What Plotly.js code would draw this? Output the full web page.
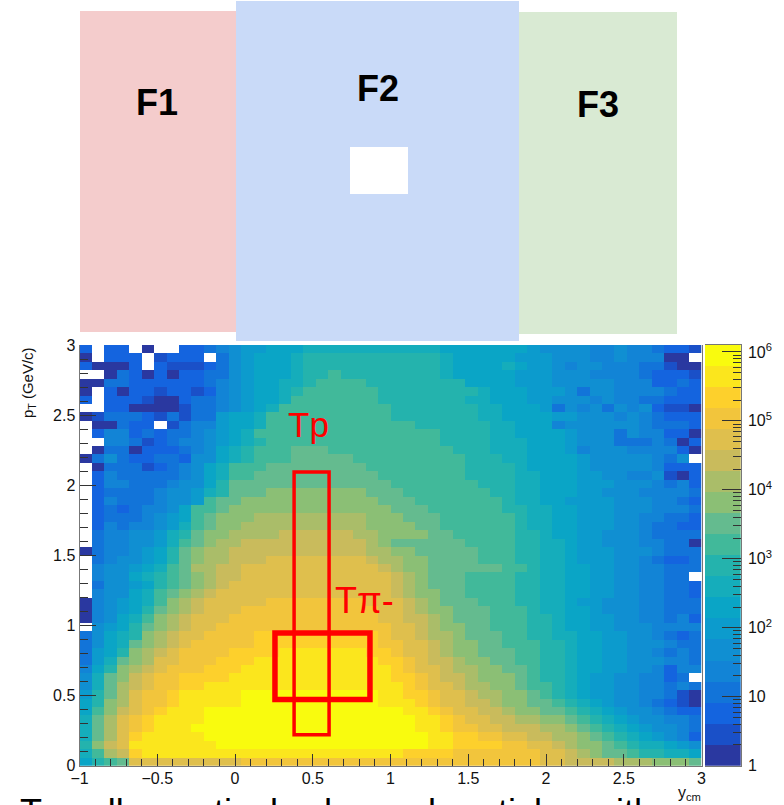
<!DOCTYPE html>
<html>
<head>
<meta charset="utf-8">
<script src="https://cdn.plot.ly/plotly-3.0.1.min.js"></script>
<style>html,body{margin:0;padding:0;background:#fff;overflow:hidden}</style>
</head>
<body>
<div id="chart" style="width:784px;height:805px"></div>
<script>
const n = null; // empty bin
// Palette band (0 = lowest, 19 = highest) of every bin.
// First row is the top of the plot (pT = 3), last row the bottom (pT = 0).
const bandsByRow = [
[2,n,2,2,n,0,n,n,2,2, 3,4,5,6,6,7,7,7,8,8, 8,8,8,8,8,8,8,8,8,7, 7,7,7,7,7,7,6,5,5,5, 5,4,4,5,4,4,3,2,2,1],
[0,n,2,2,2,n,1,2,2,2, n,3,5,6,7,7,7,8,9,9, 9,9,9,9,9,9,9,9,9,8, 7,7,7,7,7,6,6,6,5,5, 5,4,4,5,4,4,4,0,0,n],
[2,0,0,0,2,n,2,1,1,1, 2,3,5,6,7,7,7,8,9,9, 9,9,9,9,9,9,9,9,9,8, 7,7,7,7,8,7,6,6,5,4, 5,5,4,4,4,3,3,1,0,0],
[n,n,0,3,2,0,2,0,2,2, 3,3,5,6,7,7,7,8,9,9, 10,9,9,9,9,9,9,9,9,8, 7,7,7,7,7,6,6,6,5,5, 5,4,4,4,4,3,2,2,2,1],
[0,0,3,3,2,2,2,2,2,2, 3,4,5,6,7,7,8,8,9,10, 10,10,10,9,9,9,9,9,9,9, 9,7,7,7,7,6,6,6,5,5, 5,5,5,4,4,4,2,2,3,2],
[0,n,2,0,2,2,1,2,2,1, 2,4,5,6,7,7,8,9,10,10, 10,10,10,10,9,9,9,9,9,9, 9,9,8,7,7,7,6,6,6,5, 3,5,5,4,4,4,4,3,2,2],
[2,n,2,2,2,1,0,0,2,3, 3,4,5,6,7,7,8,10,10,10, 10,10,10,10,9,9,9,9,9,9, 9,8,8,7,7,7,6,6,5,5, 5,4,5,4,4,3,3,2,2,2],
[n,n,2,2,0,0,0,0,1,3, 3,4,5,6,7,8,10,10,10,10, 10,10,10,10,10,9,9,9,9,9, 9,9,8,8,7,7,7,6,3,5, 4,5,3,5,4,5,2,1,1,0],
[0,1,3,3,3,2,1,3,1,3, 3,6,7,7,8,10,10,10,10,10, 10,10,10,10,10,9,9,9,9,9, 9,9,8,8,7,7,7,7,6,6, 5,5,5,4,5,4,3,2,2,2],
[n,0,0,3,2,2,n,1,3,4, 4,6,7,7,8,10,10,10,10,10, 10,10,10,10,10,10,10,9,9,9, 9,9,9,8,8,7,7,7,4,5, 5,5,5,5,5,4,3,3,3,2],
[n,2,4,4,2,3,2,3,3,4, 5,6,7,8,10,10,10,10,10,10, 10,10,10,10,10,10,10,10,10,9, 9,9,9,8,8,7,7,7,7,6, 5,5,5,3,5,4,4,2,2,0],
[n,n,4,4,3,1,2,3,4,4, 5,6,7,8,9,10,10,10,10,10, 10,10,10,10,10,10,10,10,10,9, 9,9,9,8,8,8,7,7,7,6, 5,5,5,3,3,3,4,3,0,2],
[n,0,3,3,0,2,2,2,3,4, 5,7,8,9,10,10,10,11,11,11, 10,10,10,10,10,10,10,10,10,10, 9,9,9,8,8,8,7,7,7,6, 4,5,5,5,4,4,4,4,2,0],
[0,3,5,3,2,2,3,3,2,5, 5,7,8,9,10,10,10,11,11,11, 11,11,10,10,10,10,10,10,10,10, 10,9,9,9,8,8,7,7,7,7, 6,5,5,5,5,5,4,3,5,n],
[n,0,3,3,3,1,2,3,4,5, 7,8,10,10,10,11,11,11,11,11, 11,11,11,10,10,10,10,10,10,10, 10,9,9,9,9,8,7,7,7,7, 6,5,5,5,5,5,4,2,2,2],
[n,2,4,3,3,3,3,3,4,5, 7,8,10,10,11,11,11,11,11,11, 11,11,11,11,10,10,10,10,10,10, 10,9,9,9,9,8,8,7,7,7, 6,6,5,5,4,4,5,1,0,2],
[n,2,4,4,3,3,3,4,5,5, 7,9,11,11,11,11,11,11,11,11, 11,11,11,11,11,10,10,10,10,10, 10,10,9,9,9,8,8,7,7,7, 6,6,6,5,5,5,4,3,4,2],
[n,2,3,3,3,3,4,5,5,6, 8,9,11,11,11,12,12,12,12,12, 12,12,12,11,11,11,10,10,10,10, 10,10,10,9,9,8,8,7,7,7, 6,6,5,5,5,4,4,4,4,3],
[n,2,4,3,3,3,4,5,5,6, 10,11,11,12,12,12,12,12,12,12, 12,12,12,12,11,11,11,10,10,10, 10,10,10,10,9,8,8,7,7,6, 6,6,6,5,5,5,4,4,3,2],
[n,2,3,2,3,4,4,5,7,10, 10,11,12,12,12,12,12,12,12,12, 12,12,12,12,12,11,11,11,10,10, 10,10,10,10,9,9,8,8,7,7, 6,6,6,5,5,5,4,4,4,3],
[n,2,3,3,3,4,5,6,7,10, 11,12,12,12,13,13,13,13,13,13, 13,13,13,12,12,12,11,11,11,10, 10,10,10,10,10,9,8,8,7,7, 6,6,6,5,5,4,4,3,3,2],
[n,2,4,3,4,4,5,6,8,10, 11,12,12,13,13,13,13,13,13,13, 13,13,13,12,12,12,12,11,11,10, 10,10,10,10,10,9,8,8,7,7, 6,6,6,5,5,4,3,3,2,2],
[n,3,4,4,5,5,6,8,9,11, 12,12,13,13,13,13,14,14,14,14, 14,14,13,13,12,12,12,12,11,11, 10,10,10,10,10,9,9,8,7,7, 6,6,5,5,5,4,3,3,3,3],
[n,3,4,4,5,5,6,8,10,11, 12,13,13,14,14,14,14,14,14,14, 14,14,14,13,12,11,11,11,11,11, 11,10,10,10,10,9,9,8,8,7, 6,6,5,5,5,4,4,3,3,0],
[0,3,4,4,5,6,7,9,11,12, 13,13,14,14,14,14,14,14,14,14, 14,14,14,13,13,12,12,11,11,11, 11,11,10,10,10,9,9,8,8,7, 6,6,6,5,5,5,4,3,3,3],
[n,3,4,5,5,6,7,9,11,12, 13,13,14,14,14,15,15,15,15,15, 15,15,15,14,13,13,12,12,11,11, 11,11,10,10,10,9,9,8,8,7, 6,6,6,5,5,4,3,2,2,3],
[n,4,5,5,6,7,8,10,11,13, 13,14,14,15,15,15,15,15,15,15, 15,15,15,15,14,13,12,12,11,11, 11,11,11,11,10,10,9,8,8,7, 7,6,6,5,5,4,4,3,3,3],
[n,4,5,5,7,8,9,10,11,12, 13,14,14,15,15,15,15,15,15,15, 15,15,15,15,15,14,13,12,11,11, 11,10,10,10,10,9,9,8,8,7, 7,6,6,5,5,4,4,3,3,n],
[n,3,5,5,6,7,9,10,11,12, 13,14,15,15,15,15,15,15,15,15, 15,15,15,15,15,14,13,12,11,11, 11,10,10,10,10,9,9,8,8,7, 7,6,6,5,5,4,4,3,3,2],
[n,4,5,5,7,8,10,11,12,13, 14,15,15,15,15,15,15,15,15,15, 15,15,15,15,15,14,13,12,12,11, 11,10,10,10,10,9,9,8,8,7, 7,6,6,5,5,4,4,3,3,2],
[0,4,5,6,7,8,10,12,13,14, 15,15,15,15,15,16,16,16,16,16, 16,16,16,15,15,15,14,13,12,11, 11,11,10,10,10,9,9,8,8,7, 6,6,5,5,5,4,4,3,3,3],
[0,4,5,6,7,9,11,12,13,14, 15,15,15,16,16,16,16,16,16,16, 16,16,16,16,15,15,14,13,12,12, 11,11,11,10,10,10,9,8,8,7, 7,6,5,5,5,4,4,3,3,3],
[0,4,5,7,8,10,12,13,14,15, 15,15,16,16,16,16,16,16,16,16, 16,16,16,16,15,15,14,14,13,12, 11,11,11,10,10,10,9,9,8,7, 7,6,6,5,5,4,4,3,4,2],
[n,5,6,7,9,11,12,13,14,15, 15,16,16,16,16,16,16,16,16,16, 16,16,16,16,16,15,15,14,13,12, 12,11,11,10,10,10,9,9,8,7, 7,6,6,5,5,5,4,4,4,4],
[3,5,7,8,9,12,13,14,15,15, 16,16,16,16,17,17,17,17,17,17, 17,17,17,17,16,15,15,14,13,13, 12,11,11,11,10,10,9,9,8,8, 7,7,6,6,5,5,4,3,2,3],
[3,5,7,8,11,12,13,14,15,16, 16,16,16,16,17,17,17,17,17,17, 17,17,17,17,16,16,15,15,14,13, 12,12,11,11,10,10,10,9,9,8, 7,7,6,6,5,5,5,4,3,3],
[3,6,7,9,12,13,14,15,16,16, 16,16,17,17,17,17,18,18,18,18, 18,18,18,17,17,16,15,15,14,13, 12,12,11,11,11,10,10,9,9,8, 7,7,6,6,5,5,4,3,4,3],
[3,6,8,11,12,13,15,15,16,16, 16,17,17,17,18,18,18,18,18,18, 18,18,18,18,17,17,16,15,14,14, 13,12,12,11,11,10,10,9,9,8, 7,7,6,6,5,5,5,4,4,3],
[4,7,9,12,13,14,15,16,16,16, 17,17,17,18,18,18,18,18,18,18, 18,18,18,18,18,17,16,15,15,14, 13,13,12,12,11,11,10,9,9,8, 7,7,6,6,5,5,4,2,4,4],
[5,8,11,12,14,15,16,16,17,17, 17,17,18,18,18,18,18,18,18,18, 18,18,18,18,18,17,17,16,15,14, 14,13,12,12,12,11,10,9,9,8, 7,6,6,5,5,4,4,2,3,n],
[5,8,11,13,14,15,16,16,17,17, 18,18,18,18,18,18,18,18,18,18, 18,18,18,18,18,18,17,16,15,15, 14,13,13,12,12,11,10,10,9,8, 7,6,6,5,5,4,4,3,4,3],
[6,9,11,13,15,16,16,17,18,18, 18,18,18,19,19,19,19,19,19,19, 19,19,19,19,18,18,17,17,16,15, 15,14,13,13,12,12,11,10,9,8, 7,6,6,5,5,4,4,3,1,0],
[7,9,12,13,15,16,16,17,18,18, 18,18,18,19,19,19,19,19,19,19, 19,19,19,19,18,18,18,17,16,15, 15,14,14,13,12,12,11,11,10,9, 8,7,6,5,5,4,3,2,1,0],
[7,10,12,14,15,16,17,18,18,18, 19,19,19,19,19,19,19,19,19,19, 19,19,19,19,19,19,18,18,17,16, 15,15,14,14,13,12,12,11,11,10, 9,8,7,6,5,5,4,3,2,2],
[8,11,13,15,16,17,18,18,18,18, 19,19,19,19,19,19,19,19,19,19, 19,19,19,19,19,19,19,18,18,17, 16,15,15,14,14,13,13,12,12,11, 10,9,8,7,6,5,5,4,4,3],
[8,11,13,15,16,17,18,18,18,19, 19,19,19,19,19,19,19,19,19,19, 19,19,19,19,19,19,19,18,18,17, 16,16,15,15,14,14,14,13,13,12, 11,10,9,8,7,6,5,5,4,3],
[8,11,13,15,17,18,18,18,18,18, 19,19,19,19,19,19,19,19,19,19, 19,19,19,19,19,19,19,19,18,18, 17,17,16,16,15,15,14,14,13,13, 12,11,10,9,8,7,6,5,4,2],
[9,12,14,15,18,18,18,18,18,18, 18,19,19,19,19,19,19,19,19,19, 19,19,19,19,19,19,19,19,18,18, 17,17,17,17,16,16,15,15,14,13, 12,12,11,10,9,8,8,7,6,5],
[8,10,13,14,17,18,18,18,18,18, 18,18,18,18,18,18,18,18,18,18, 18,18,18,18,18,18,17,17,17,17, 16,16,16,16,16,16,16,15,15,14, 13,12,11,11,10,9,9,8,8,7],
[7,9,10,11,15,15,15,15,15,15, 15,15,15,16,16,16,16,16,16,16, 16,16,16,16,16,16,16,16,16,16, 16,16,16,16,16,16,16,15,15,14, 14,14,14,13,13,13,12,12,12,11]
];
const palette = ['#2a38a0','#1a50c8','#1464df','#1274d9','#1284d6','#108fd2','#0c9bcd','#0aa5c6','#15adbb','#24b3ad','#41b99a','#64bb8f','#8bbf75','#aabd69','#c9bb5c','#dfbf4d','#f2c53c','#fdd02c','#fbe61d','#f9fb0e'];
const decadesPerBand = 0.305;
const yTickVals = [0,0.5,1,1.5,2,2.5,3];
const yTickText = ['0','0.5','1','1.5','2','2.5','3'];
const xTickVals = [-1,-0.5,0,0.5,1,1.5,2,2.5,3];
const xTickText = ['\u22121','\u22120.5','0','0.5','1','1.5','2','2.5','3'];
const scaleTickVals = [1,10,100,1000,10000,100000,1000000];
const scaleTickText = ['1','10','10<sup>2</sup>','10<sup>3</sup>','10<sup>4</sup>','10<sup>5</sup>','10<sup>6</sup>'];
const scaleMinorVals = [];
for (let d = 0; d < 6; d++) for (let m = 2; m <= 9; m++) scaleMinorVals.push(m * Math.pow(10, d));
const boxTp = {x0:0.38, x1:0.605, y0:0.22, y1:2.095};
const boxTpi = {x0:0.257, x1:0.868, y0:0.472, y1:0.947};

const W = 784, H = 805;
const px = v => v / W, py = v => 1 - v / H;
const FONT = '"Liberation Sans", Arial, sans-serif';
const scale = [];
palette.forEach((c, i) => { scale.push([i / 20, c]); scale.push([(i + 1) / 20, c]); });
const zMax = 20 * decadesPerBand;

const z = bandsByRow.slice().reverse().map(r => r.map(b => b === null ? null : (b + 0.5) * decadesPerBand));
const stripEdges = [], stripZ = [];
for (let i = 0; i <= 20; i++) stripEdges.push(Math.pow(10, i * decadesPerBand));
for (let i = 0; i < 20; i++) stripZ.push([(i + 0.5) * decadesPerBand]);

const traces = [
  {type:'heatmap', z:z, x0:-0.96, dx:0.08, y0:0.03, dy:0.06, colorscale:scale, zmin:0, zmax:zMax, showscale:false, hoverongaps:false, xaxis:'x', yaxis:'y'},
  {type:'heatmap', z:stripZ, x:[0,1], y:stripEdges, colorscale:scale, zmin:0, zmax:zMax, showscale:false, xaxis:'x2', yaxis:'y2'}
];
const rect = (x0,y0,x1,y1,c) => ({type:'rect', xref:'paper', yref:'paper', x0:px(x0), x1:px(x1), y0:py(y1), y1:py(y0), fillcolor:c, line:{width:0}, layer:'below'});
const redBox = (b,w) => ({type:'rect', xref:'x', yref:'y', x0:b.x0, x1:b.x1, y0:b.y0, y1:b.y1, line:{color:'#ff0000', width:w}, fillcolor:'rgba(0,0,0,0)', layer:'above'});
const note = (text,x,y,size,color,extra) => Object.assign({text:text, xref:'paper', yref:'paper', x:px(x), y:py(y), showarrow:false, font:{family:FONT, size:size, color:color}, xanchor:'center', yanchor:'middle'}, extra||{});
const tickFont = {family:FONT, size:16, color:'#111'};

const layout = {
  width:W, height:H, margin:{l:0,r:0,t:0,b:0}, paper_bgcolor:'#fff', plot_bgcolor:'#fff', showlegend:false,
  xaxis:{domain:[px(79.5),px(701.5)], range:[-1,3], anchor:'y', tickmode:'array', tickvals:xTickVals, ticktext:xTickText, ticks:'inside', ticklen:12, tickwidth:1, tickcolor:'#333', tickfont:tickFont, ticklabelstandoff:-2, showgrid:false, zeroline:false, showline:true, linecolor:'#777', linewidth:1, minor:{dtick:0.1, ticks:'inside', ticklen:7, tickwidth:1, tickcolor:'#333', showgrid:false}},
  yaxis:{domain:[py(765.7),py(345)], range:[0,3], anchor:'x', tickmode:'array', tickvals:yTickVals, ticktext:yTickText, ticks:'inside', ticklen:16, tickwidth:1, tickcolor:'#333', tickfont:tickFont, showgrid:false, zeroline:false, showline:true, mirror:true, linecolor:'#777', linewidth:1, minor:{dtick:0.1, ticks:'inside', ticklen:8, tickwidth:1, tickcolor:'#333', showgrid:false}},
  xaxis2:{domain:[px(705),px(740.7)], range:[0,1], anchor:'y2', showticklabels:false, ticks:'', showgrid:false, zeroline:false, showline:true, linecolor:'#777', linewidth:1, mirror:true},
  yaxis2:{domain:[py(765.7),py(345)], type:'log', range:[0,20*decadesPerBand], anchor:'x2', side:'right', tickmode:'array', tickvals:scaleTickVals, ticktext:scaleTickText, ticks:'inside', ticklen:19, tickwidth:1, tickcolor:'#333', tickfont:tickFont, ticklabelstandoff:3, showgrid:false, zeroline:false, showline:true, linecolor:'#777', linewidth:1, minor:{tickmode:'array', tickvals:scaleMinorVals, ticks:'inside', ticklen:8, tickwidth:1, tickcolor:'#333', showgrid:false}},
  shapes:[
    rect(80,11,236,332,'#f4cccc'),
    rect(236,1,519,341,'#c9daf8'),
    rect(519,12,677,334,'#d9ead3'),
    rect(350,147,408,194,'#ffffff'),
    redBox(boxTp,3.5),
    redBox(boxTpi,5.5)
  ],
  annotations:[
    note('<b>F1</b>',157,103,36,'#000'),
    note('<b>F2</b>',378,89,36,'#000'),
    note('<b>F3</b>',598,104,36,'#000'),
    note('Tp',308,424,35,'#ff0000'),
    note('T\u03c0-',364,600,36,'#ff0000'),
    note('p<sub>T</sub> (GeV/c)',28,383,15,'#111',{textangle:-90}),
    note('y<sub>cm</sub>',689,793,16,'#111'),
    note('T<sub>\u03c0-</sub>: all negatively charged particles with',18,790,36,'#000',{xanchor:'left',yanchor:'top'})
  ]
};
Plotly.newPlot('chart', traces, layout, {staticPlot:true, displayModeBar:false});
</script>
</body>
</html>
